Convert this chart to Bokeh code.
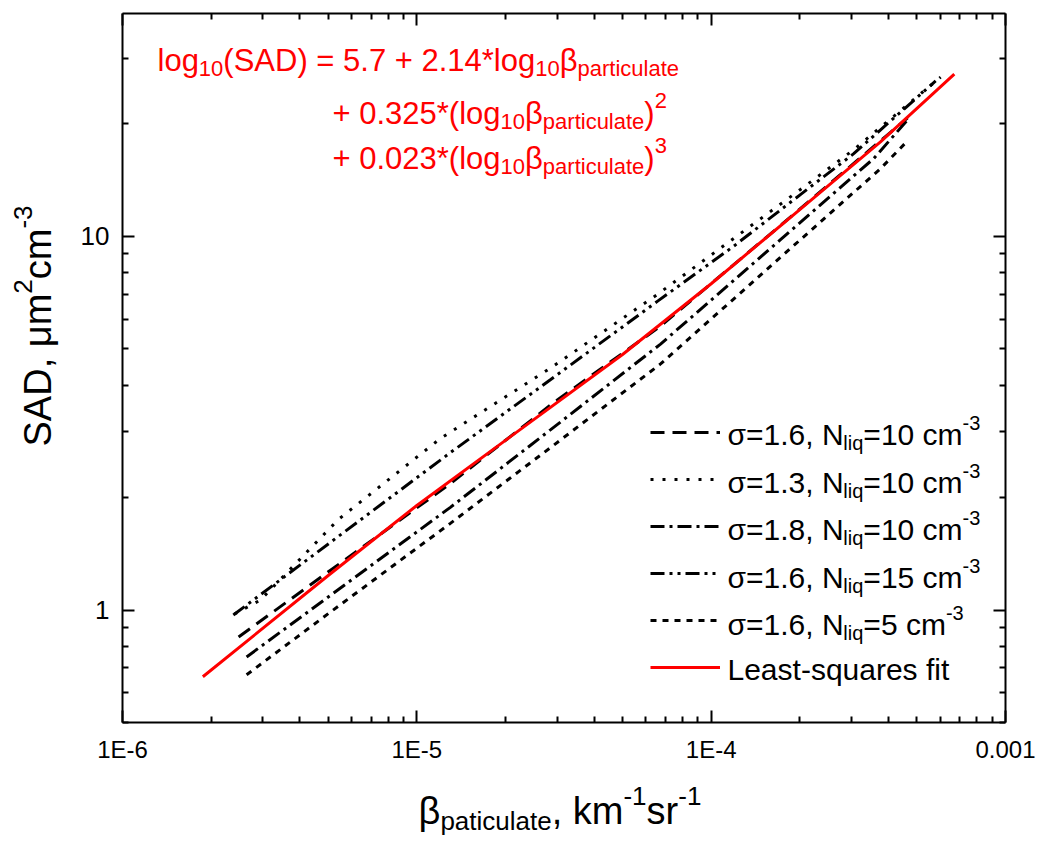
import math
from bokeh.plotting import figure
from bokeh.models import (Range1d, LogAxis, FixedTicker, Label, Legend, LegendItem,
                          CustomJSTickFormatter)
from bokeh.embed import file_html
from bokeh.resources import INLINE

# ---------------- data ----------------
fit_x = [1.875e-6, 5.0e-6, 1.0e-5, 2.0e-5, 5.0e-5, 1.0e-4, 2.0e-4, 3.76e-4, 6.7e-4]
fit_y = [0.663, 1.237, 1.905, 2.845, 4.83, 7.47, 11.8, 17.9, 27.2]

s16_n10_x = [2.48e-6, 5.09e-6, 1.30e-5, 2.91e-5, 6.73e-5, 1.72e-4, 4.65e-4]
s16_n10_y = [0.847, 1.278, 2.18, 3.587, 5.754, 10.7, 20.77]

s13_n10_x = [2.40e-6, 2.94e-6, 5.42e-6, 1.20e-5, 2.85e-5, 6.58e-5, 2.01e-4, 3.05e-4, 6.02e-4]
s13_n10_y = [0.976, 1.063, 1.749, 2.875, 4.446, 7.003, 13.35, 17.06, 26.7]

s18_n10_x = [2.64e-6, 5.09e-6, 1.30e-5, 2.85e-5, 6.73e-5, 1.72e-4, 3.56e-4, 4.65e-4]
s18_n10_y = [0.749, 1.095, 1.883, 3.04, 5.15, 9.80, 16.14, 20.5]

s16_n15_x = [2.38e-6, 5.09e-6, 1.30e-5, 2.85e-5, 6.58e-5, 1.19e-4, 2.01e-4, 3.05e-4, 5.79e-4]
s16_n15_y = [0.970, 1.518, 2.638, 4.14, 6.71, 9.40, 12.94, 16.65, 26.06]

s16_n5_x = [2.64e-6, 5.09e-6, 1.30e-5, 2.85e-5, 6.73e-5, 1.72e-4, 3.76e-4, 4.65e-4]
s16_n5_y = [0.671, 0.988, 1.706, 2.724, 4.557, 8.79, 15.18, 18.03]

x_major = [1e-6, 1e-5, 1e-4, 1e-3]
x_major_labels = ["1E-6", "1E-5", "1E-4", "0.001"]
x_minor = [m * d for d in [1e-6, 1e-5, 1e-4] for m in range(2, 10)]
y_major = [1.0, 10.0]
y_major_labels = ["1", "10"]
y_minor = [0.5, 0.6, 0.7, 0.8, 0.9, 2, 3, 4, 5, 6, 7, 8, 9, 20, 30]

# ---------------- geometry ----------------
FONT = "Liberation Sans"
X0, X1 = 1e-6, 1e-3          # axis box limits
Y0, Y1 = 0.5, 39.5
FL, FR, FT, FB = 122, 1005, 13, 722   # axis box edges in canvas pixels
W, H = 1040, 840

def dx(px):
    return 10 ** (math.log10(X0) + (px - FL) / (FR - FL) * (math.log10(X1) - math.log10(X0)))

def dy(py):
    return 10 ** (math.log10(Y0) + (FB - py) / (FB - FT) * (math.log10(Y1) - math.log10(Y0)))

ADV = {' ': 278, '(': 333, ')': 333, '*': 389, '+': 584, ',': 278, '-': 333, '.': 278, '=': 584,
       'A': 667, 'D': 722, 'E': 667, 'L': 556, 'N': 722, 'S': 667,
       'a': 556, 'c': 500, 'e': 556, 'f': 278, 'g': 556, 'i': 222, 'k': 500, 'l': 222, 'm': 833,
       'o': 556, 'p': 556, 'q': 556, 'r': 333, 's': 500, 't': 278, 'u': 556,
       'β': 576, 'σ': 610, 'μ': 576}

def tw(s, size):
    return sum(ADV.get(ch, 556) for ch in s) * size / 1000.0

# the frame fills the whole canvas; the visible axes are pinned at the box edges
p = figure(width=W, height=H, x_axis_type="log", y_axis_type="log",
           x_range=Range1d(dx(0), dx(W)), y_range=Range1d(dy(H), dy(0)),
           output_backend="svg", toolbar_location=None,
           min_border_left=0, min_border_right=0, min_border_top=0, min_border_bottom=0)
p.xgrid.visible = False
p.ygrid.visible = False
p.outline_line_color = None
p.background_fill_color = "white"
p.border_fill_color = "white"

bottom = p.below[0]
left = p.left[0]
top = LogAxis()
right = LogAxis()
p.add_layout(top, "above")
p.add_layout(right, "right")

def make_fmt(tv, tl):
    return CustomJSTickFormatter(args=dict(tv=tv, tl=tl), code="""
        for (let i = 0; i < tv.length; i++) {
            if (Math.abs(Math.log10(tick) - Math.log10(tv[i])) < 1e-6) { return tl[i]; }
        }
        return "";
    """)

def style_axis(ax, major, minor, labels, show, loc, bounds):
    ax.fixed_location = loc
    ax.bounds = bounds
    ax.ticker = FixedTicker(ticks=major, minor_ticks=minor)
    ax.axis_line_width = 2
    ax.axis_line_color = "black"
    ax.major_tick_in = 12
    ax.major_tick_out = 0
    ax.minor_tick_in = 6
    ax.minor_tick_out = 0
    ax.major_tick_line_width = 2
    ax.minor_tick_line_width = 2
    ax.major_tick_line_color = "black"
    ax.minor_tick_line_color = "black"
    ax.axis_label = None
    if show:
        ax.formatter = make_fmt(major, labels)
        ax.major_label_text_font = FONT
        ax.major_label_text_color = "black"
    else:
        ax.major_label_text_font_size = "1px"
        ax.major_label_text_color = None
        ax.major_label_standoff = 0

style_axis(bottom, x_major, x_minor, x_major_labels, True, Y0, (X0, X1))
bottom.major_label_text_font_size = "24px"
bottom.major_label_standoff = 13
style_axis(left, y_major, y_minor, y_major_labels, True, X0, (Y0, Y1))
left.major_label_text_font_size = "26px"
left.major_label_standoff = 13
style_axis(top, x_major, x_minor, x_major_labels, False, Y1, (X0, X1))
style_axis(right, y_major, y_minor, y_major_labels, False, X1, (Y0, Y1))

# ---------------- series ----------------
r1 = p.line(s16_n10_x, s16_n10_y, line_color="black", line_width=3, line_dash="14 8")
r2 = p.line(s13_n10_x, s13_n10_y, line_color="black", line_width=3, line_dash="3 9")
r3 = p.line(s18_n10_x, s18_n10_y, line_color="black", line_width=3, line_dash="14 5 3 5")
r4 = p.line(s16_n15_x, s16_n15_y, line_color="black", line_width=3, line_dash="14 5 3 5 3 5")
r5 = p.line(s16_n5_x, s16_n5_y, line_color="black", line_width=3, line_dash="6 6")
r6 = p.line(fit_x, fit_y, line_color="#ff0000", line_width=3)

legend = Legend(items=[LegendItem(label=" ", renderers=[r]) for r in [r1, r2, r3, r4, r5, r6]],
                location=(650, H - 677), padding=0, margin=0, spacing=27,
                glyph_width=70, glyph_height=20, label_height=20, label_width=10,
                label_standoff=5, label_text_font_size="10px",
                border_line_color=None, background_fill_alpha=0)
p.add_layout(legend, "center")

# ---------------- text pieces ----------------
def run(segs, px, py, size, small, color="black", angle=0.0, sub_off=0.27, sup_off=0.40):
    fix = 0.3 * size                      # baseline correction
    cur = px if angle == 0 else py
    for txt, kind in segs:
        s = size if kind == "n" else small
        off = 0.0 if kind == "n" else (sub_off * size if kind == "sub" else -sup_off * size)
        if angle == 0:
            lx, ly = cur, py + off - fix
            cur += tw(txt, s)
        else:
            lx, ly = px + off - fix, cur
            cur -= tw(txt, s)
        p.add_layout(Label(x=dx(lx), y=dy(ly), text=txt, text_font=FONT,
                           text_font_size=f"{s}px", text_color=color, text_align="left",
                           text_baseline="alphabetic", angle=angle))

RED = "#ff0000"
run([("log", "n"), ("10", "sub"), ("(SAD) = 5.7 + 2.14*log", "n"), ("10", "sub"),
     ("β", "n"), ("particulate", "sub")], 157, 69, 31, 22, RED)
run([("+ 0.325*(log", "n"), ("10", "sub"), ("β", "n"), ("particulate", "sub"),
     (")", "n"), ("2", "sup")], 332, 122, 31, 22, RED)
run([("+ 0.023*(log", "n"), ("10", "sub"), ("β", "n"), ("particulate", "sub"),
     (")", "n"), ("3", "sup")], 332, 167, 31, 22, RED)

legend_rows = [("σ=1.6, N", "=10 cm"), ("σ=1.3, N", "=10 cm"), ("σ=1.8, N", "=10 cm"),
               ("σ=1.6, N", "=15 cm"), ("σ=1.6, N", "=5 cm")]
row_base = [443, 491, 538, 586, 633]
for (a, b), yb in zip(legend_rows, row_base):
    run([(a, "n"), ("liq", "sub"), (b, "n"), ("-3", "sup")], 727, yb, 30, 20)
run([("Least-squares fit", "n")], 727, 678, 30, 20)

# axis titles
run([("β", "n"), ("paticulate", "sub"), (", km", "n"), ("-1", "sup"), ("sr", "n"), ("-1", "sup")],
    418, 822, 38, 26)
run([("SAD, μm", "n"), ("2", "sup"), ("cm", "n"), ("-3", "sup")], 49, 446, 38, 26,
    angle=math.pi / 2)

open("out.html", "w").write(file_html(p, INLINE))
